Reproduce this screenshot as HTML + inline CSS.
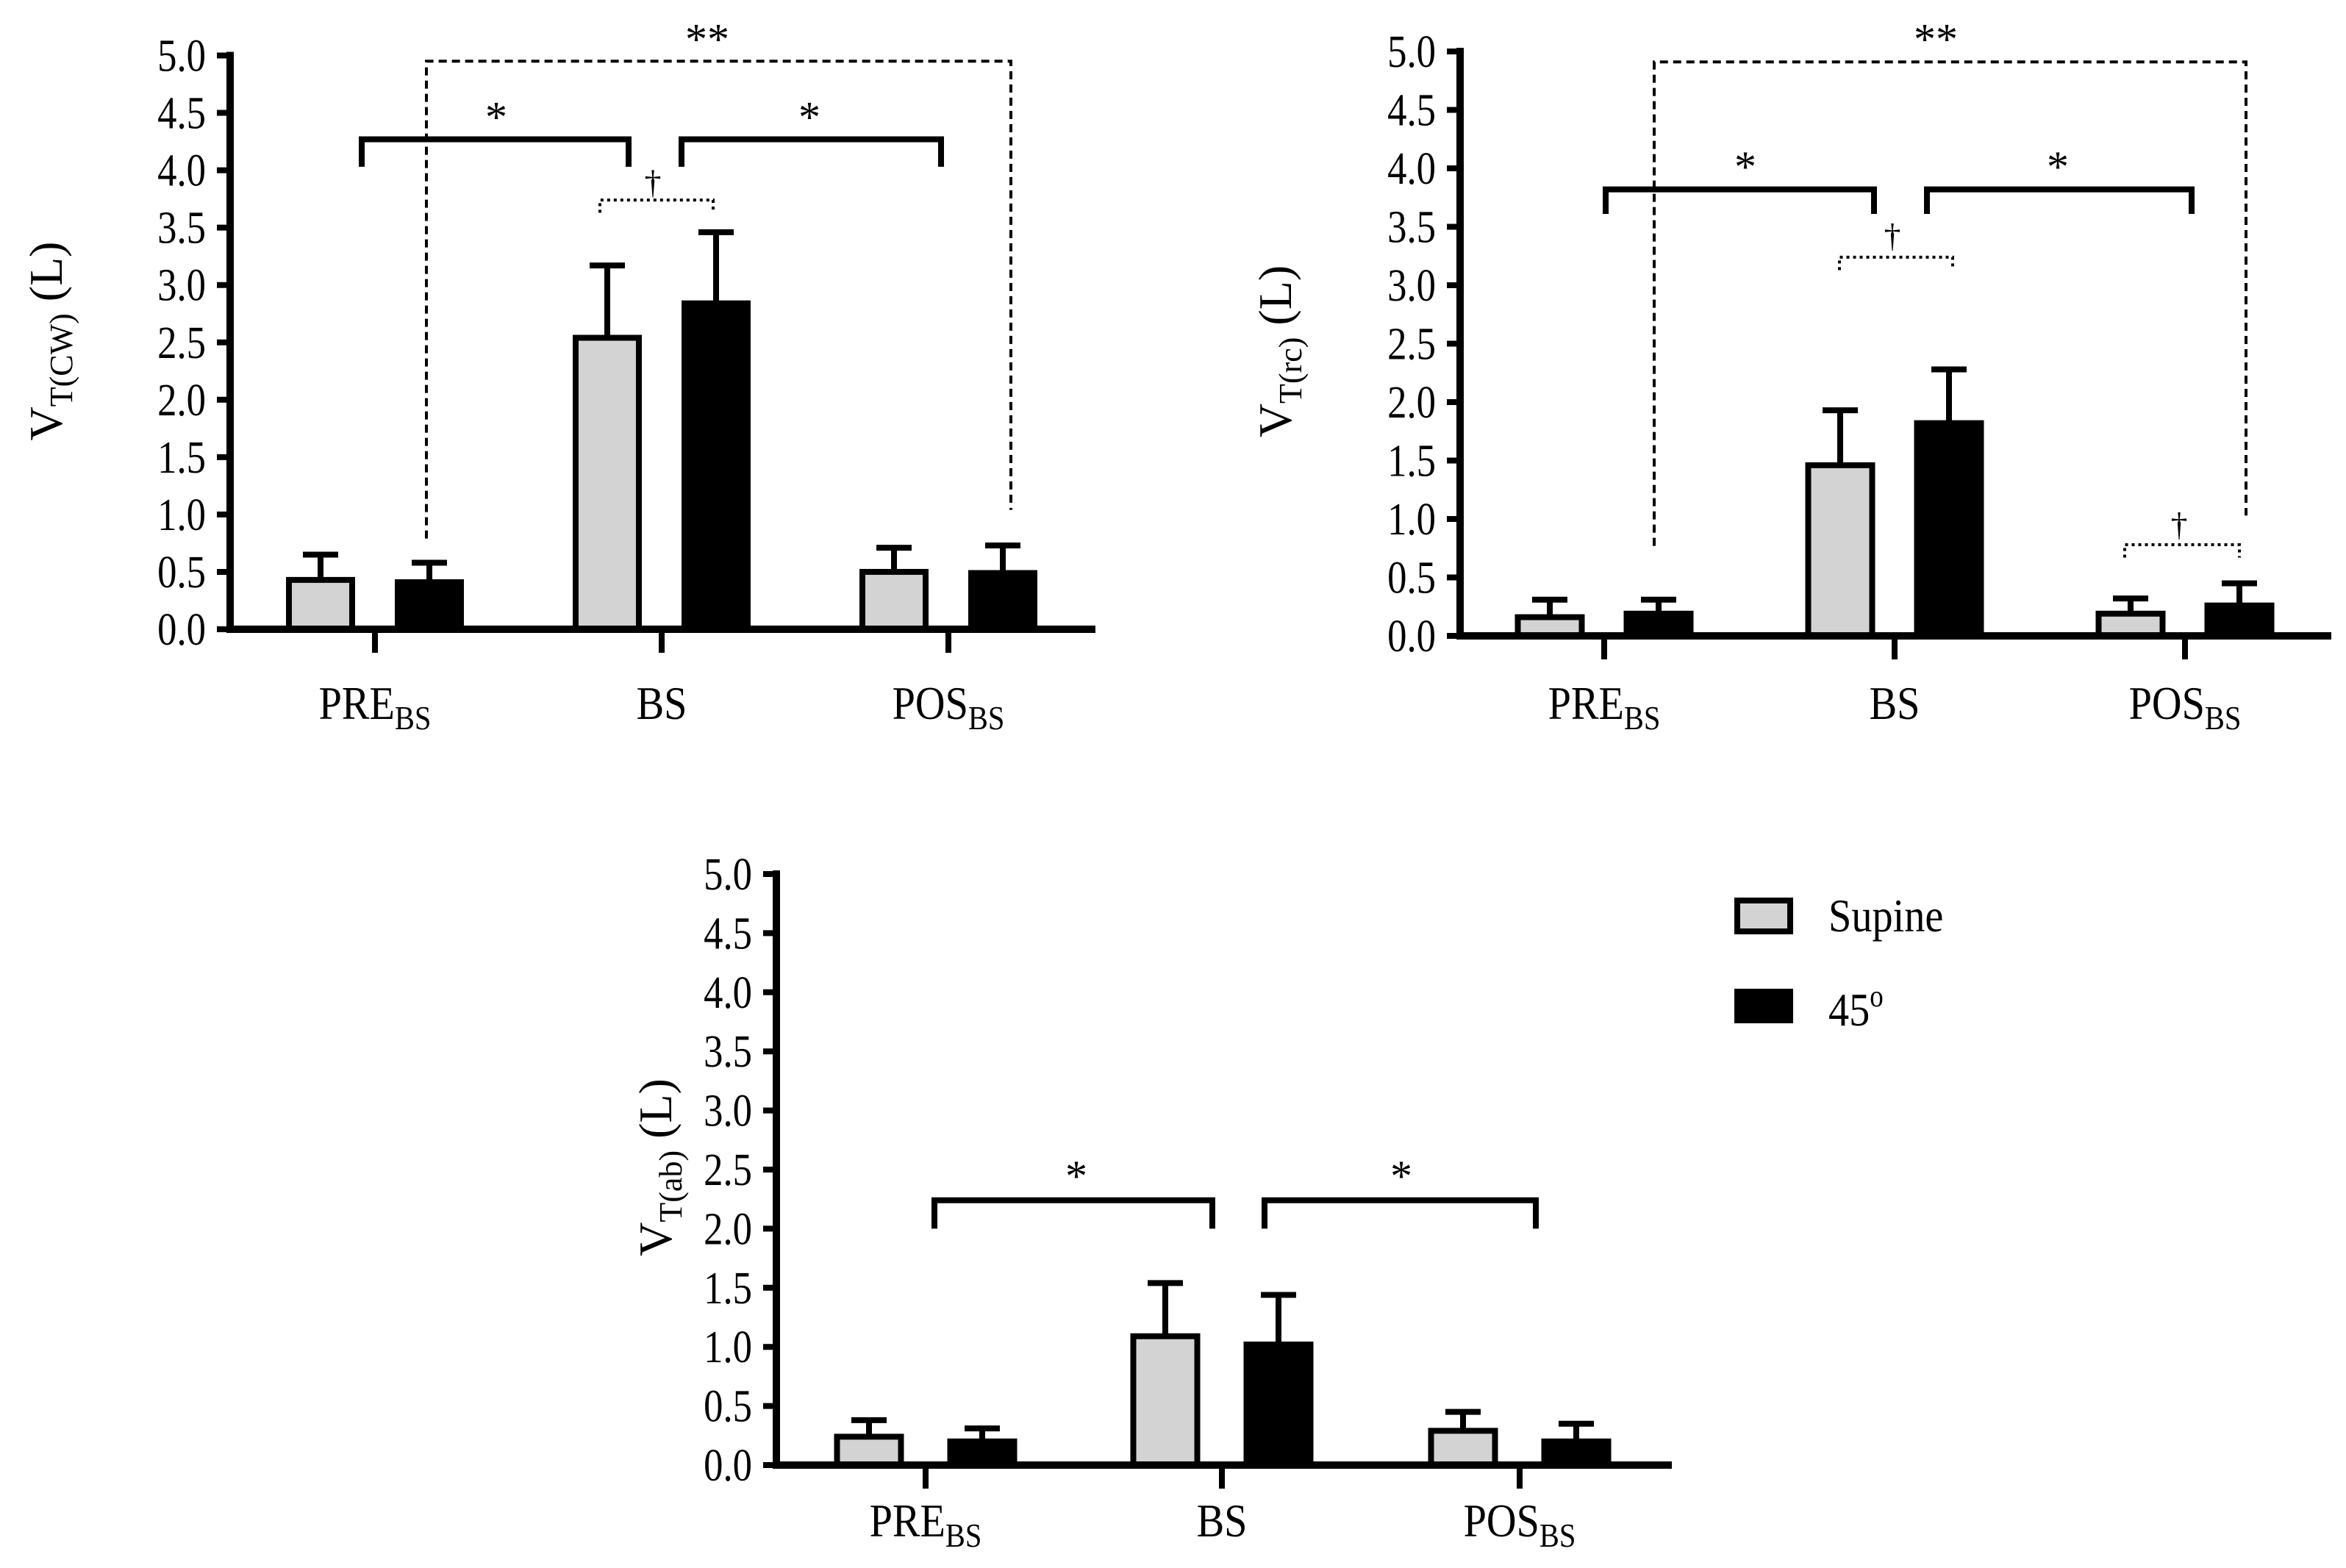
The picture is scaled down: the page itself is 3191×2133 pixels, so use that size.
<!DOCTYPE html>
<html><head><meta charset="utf-8"><style>
html,body{margin:0;padding:0;background:#fff;}
svg{display:block;}
text{font-family:"Liberation Serif",serif;fill:#000;}
</style></head><body>
<svg id="fig" width="3191" height="2133" viewBox="0 0 3191 2133" xmlns="http://www.w3.org/2000/svg"></svg>
<script>
const categories = ["PRE", "BS", "POS"];
const cwSupine = [0.43, 2.54, 0.50];
const cwSupineSD = [0.22, 0.63, 0.21];
const cw45 = [0.41, 2.84, 0.49];
const cw45SD = [0.17, 0.62, 0.24];
const rcSupine = [0.16, 1.46, 0.19];
const rcSupineSD = [0.15, 0.47, 0.13];
const rc45 = [0.19, 1.82, 0.26];
const rc45SD = [0.12, 0.46, 0.19];
const abSupine = [0.24, 1.09, 0.29];
const abSupineSD = [0.14, 0.45, 0.16];
const ab45 = [0.20, 1.02, 0.20];
const ab45SD = [0.11, 0.42, 0.15];
const yTicks = [0, 0.5, 1, 1.5, 2, 2.5, 3, 3.5, 4, 4.5, 5];
const yTickLabels = ["0.0","0.5","1.0","1.5","2.0","2.5","3.0","3.5","4.0","4.5","5.0"];

const NS = "http://www.w3.org/2000/svg";
const svg = document.getElementById("fig");
function el(tag, attrs, parent) {
  const e = document.createElementNS(NS, tag);
  for (const k in attrs) e.setAttribute(k, attrs[k]);
  (parent || svg).appendChild(e);
  return e;
}

const charts = [
  {key:"cw", ax:313, xEnd:1490, cats:[510,900,1290], y0:856, unit:156.1, off:74, bw:94,
   sup:cwSupine, supSD:cwSupineSD, blk:cw45, blkSD:cw45SD, sub:"T(CW)", tx:62, ty:464,
   labelY:978,
   dashed:{x1:580,x2:1375,top:4.95,l:0.79,r:1.04,sx:962,sy:5.18},
   solid:[{x1:492,x2:855,top:4.27,end:4.03,sx:675,sy:4.5},{x1:927,x2:1280,top:4.27,end:4.03,sx:1101,sy:4.5}],
   dotted:[{x1:816,x2:970,top:3.74,end:3.63,sx:888,sy:3.9}]},
  {key:"rc", ax:1986, xEnd:3171, cats:[2182,2577,2972], y0:865, unit:159, off:74, bw:95,
   sup:rcSupine, supSD:rcSupineSD, blk:rc45, blkSD:rc45SD, sub:"T(rc)", tx:1734, ty:478,
   labelY:978,
   dashed:{x1:2250,x2:3055,top:4.91,l:0.77,r:1.03,sx:2633,sy:5.14},
   solid:[{x1:2184,x2:2549,top:3.82,end:3.61,sx:2374,sy:4.05},{x1:2621,x2:2981,top:3.82,end:3.61,sx:2799,sy:4.05}],
   dotted:[{x1:2502,x2:2656,top:3.24,end:3.13,sx:2574,sy:3.43},{x1:2890,x2:3046,top:0.78,end:0.67,sx:2964,sy:0.96}]},
  {key:"ab", ax:1056, xEnd:2274, cats:[1259,1662,2067], y0:1993, unit:160.8, off:77, bw:95,
   sup:abSupine, supSD:abSupineSD, blk:ab45, blkSD:ab45SD, sub:"T(ab)", tx:891, ty:1588,
   labelY:2090,
   dashed:null,
   solid:[{x1:1271,x2:1649,top:2.24,end:2.0,sx:1464,sy:2.48},{x1:1720,x2:2089,top:2.24,end:2.0,sx:1906,sy:2.48}],
   dotted:[]}
];

charts.forEach(c => {
  const Y = v => c.y0 - v * c.unit;
  const g = el("g", {});
  
  
  const ya = el("line", {x1:c.ax, y1:Y(5)-5, x2:c.ax, y2:c.y0+5, stroke:"#000","stroke-width":10}, g);
  
  
  yTicks.forEach((t, i) => {
    const tk = el("line", {x1:c.ax-18, y1:Y(t), x2:c.ax, y2:Y(t), stroke:"#000","stroke-width":8}, g);
    
    
    const tl = el("text", {x:0, y:0, "text-anchor":"end","font-size":62, transform:`translate(${c.ax-33},${Y(t)+21}) scale(0.85,1)`}, g);
    tl.textContent = yTickLabels[i];
    
    
  });
  categories.forEach((cat, i) => {
    const cx = c.cats[i];
    [[c.sup, c.supSD, -c.off, "#d3d3d3", "supine"], [c.blk, c.blkSD, c.off, "#000", "45"]].forEach(s => {
      const v = s[0][i], sd = s[1][i], bx = cx + s[2];
      const eb = el("line", {x1:bx, y1:Y(v), x2:bx, y2:Y(v+sd), stroke:"#000","stroke-width":8}, g);
      
      
      const cap = el("line", {x1:bx-24, y1:Y(v+sd), x2:bx+24, y2:Y(v+sd), stroke:"#000","stroke-width":8}, g);
      
      
      const r = el("rect", {x:bx-c.bw/2+4, y:Y(v), width:c.bw-8, height:v*c.unit, fill:s[3], stroke:"#000","stroke-width":8}, g);
      
      
    });
    const ct = el("line", {x1:cx, y1:c.y0, x2:cx, y2:c.y0+32, stroke:"#000","stroke-width":8}, g);
    
    
    const lbl = el("text", {x:0, y:0, "text-anchor":"middle","font-size":64, transform:`translate(${cx},${c.labelY}) scale(0.88,1)`}, g);
    
    
    if (cat === "BS") { lbl.textContent = "BS"; }
    else {
      const t1 = el("tspan", {}, lbl); t1.textContent = cat;
      const t2 = el("tspan", {"font-size":46, dy:14}, lbl); t2.textContent = "BS";
    }
  });
  const xa = el("line", {x1:c.ax-5, y1:c.y0, x2:c.xEnd, y2:c.y0, stroke:"#000","stroke-width":10}, g);
  
  
  const tt = el("text", {x:0, y:0, "text-anchor":"middle","font-size":64, transform:`translate(${c.tx+22},${c.ty}) rotate(-90)`}, g);
  
  
  const a1 = el("tspan", {}, tt); a1.textContent = "V";
  const a2 = el("tspan", {"font-size":44, dy:14}, tt); a2.textContent = c.sub;
  const a3 = el("tspan", {dy:-14}, tt); a3.textContent = " (L)";
  if (c.dashed) {
    const d = c.dashed;
    const p = el("path", {d:`M${d.x1},${Y(d.l)} V${Y(d.top)} H${d.x2} V${Y(d.r)}`, fill:"none", stroke:"#000","stroke-width":4,"stroke-dasharray":"11,7"}, g);
    
    
    const s = el("text", {x:d.sx, y:Y(d.sy)+26, "text-anchor":"middle","font-size":60}, g);
    s.textContent = "**";
    
    
  }
  c.solid.forEach(b => {
    const p = el("path", {d:`M${b.x1},${Y(b.end)} V${Y(b.top)} H${b.x2} V${Y(b.end)}`, fill:"none", stroke:"#000","stroke-width":8}, g);
    
    
    const s = el("text", {x:b.sx, y:Y(b.sy)+26, "text-anchor":"middle","font-size":60}, g);
    s.textContent = "*";
    
    
  });
  c.dotted.forEach(b => {
    const p = el("path", {d:`M${b.x1},${Y(b.end)} V${Y(b.top)} H${b.x2} V${Y(b.end)}`, fill:"none", stroke:"#000","stroke-width":4,"stroke-dasharray":"4,5"}, g);
    
    
    const s = el("text", {x:b.sx, y:Y(b.sy)+16, "text-anchor":"middle","font-size":46}, g);
    s.textContent = "†";
    
    
  });
});

const lg = el("g", {});


const b1 = el("rect", {x:2363, y:1225, width:72, height:42, fill:"#d3d3d3", stroke:"#000","stroke-width":8}, lg);


const l1 = el("text", {x:0, y:0, "font-size":64, transform:"translate(2487,1267) scale(0.88,1)"}, lg);
l1.textContent = "Supine";


const b2 = el("rect", {x:2359, y:1345, width:80, height:47, fill:"#000"}, lg);


const l2 = el("text", {x:0, y:0, "font-size":64, transform:"translate(2487,1395) scale(0.88,1)"}, lg);


const l2a = el("tspan", {}, l2); l2a.textContent = "45";
const l2b = el("tspan", {"font-size":42, dy:-26}, l2); l2b.textContent = "o";
</script>
</body></html>
